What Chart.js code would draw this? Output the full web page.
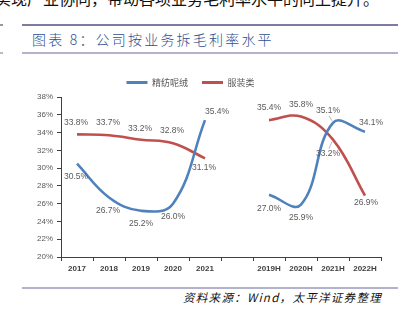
<!DOCTYPE html>
<html><head><meta charset="utf-8">
<script src="https://cdn.jsdelivr.net/npm/chart.js@4.4.0/dist/chart.umd.min.js"></script>
<style>
html,body{margin:0;padding:0;background:#fff;width:409px;height:321px;overflow:hidden;position:relative;font-family:"Noto Sans CJK SC",sans-serif;}
#top{position:absolute;left:-5px;top:-14px;font-size:16px;color:#111;white-space:nowrap;letter-spacing:0px;}
#l1{position:absolute;left:22px;top:24px;width:376px;height:2px;background:#7c7ca0;}
#l2{position:absolute;left:22px;top:52px;width:376px;height:2px;background:#b2b2cc;}
#m1{position:absolute;left:0;top:24px;width:3px;height:2px;background:#999;}
#m2{position:absolute;left:0;top:52px;width:3px;height:2px;background:#bbb;}
#title{position:absolute;left:32px;top:29px;font-size:14px;font-weight:300;color:#2e4f8f;letter-spacing:2.2px;white-space:nowrap;}
#l3{position:absolute;left:22px;top:287px;width:376px;height:2px;background:#b2b2cc;}
#src{position:absolute;left:183px;top:289px;font-size:11.5px;font-style:italic;color:#111;letter-spacing:1.3px;white-space:nowrap;}
#wrap{position:absolute;left:0;top:57px;width:409px;height:230px;}
</style></head>
<body>
<div id="top">实现产业协同，带动各项业务毛利率水平的向上提升。</div>
<div id="m1"></div><div id="m2"></div>
<div id="l1"></div>
<div id="title">图表 8：公司按业务拆毛利率水平</div>
<div id="l2"></div>
<div id="wrap"><canvas id="c" width="409" height="230"></canvas></div>
<div id="l3"></div>
<div id="src">资料来源：Wind，太平洋证券整理</div>
<script>
const categories = ['2017','2018','2019','2020','2021','','2019H','2020H','2021H','2022H'];
const woolens = [30.5, 26.7, 25.2, 26.0, 35.4, null, 27.0, 25.9, 35.1, 34.1];
const apparel = [33.8, 33.7, 33.2, 32.8, 31.1, null, 35.4, 35.8, 33.2, 26.9];
const seriesNames = ['精纺呢绒', '服装类'];
const yTicks = [20,22,24,26,28,30,32,34,36,38];

const labelOffsets = [
  [[-1,13],[-1,13],[0,13],[0,13],[12,-8],null,[0,14],[0,13],[-5,-12],[6,-9]],
  [[-1,-12],[-1,-13],[-1,-11],[-1,-13],[-1,9],null,[0,-12],[0,-12],[-5,14],[1,7]]
];
const leaders = [[8],[8]];

const ptLabels = {
  id:'ptLabels',
  afterDatasetsDraw(chart){
    const ctx = chart.ctx;
    ctx.save();
    ctx.font = '8.5px "Liberation Sans", Arial, sans-serif';
    ctx.fillStyle = '#595959';
    ctx.textAlign = 'center';
    ctx.textBaseline = 'middle';
    chart.data.datasets.forEach((ds, di) => {
      const meta = chart.getDatasetMeta(di);
      meta.data.forEach((pt, i) => {
        const v = ds.data[i];
        if (v == null) return;
        const off = labelOffsets[di][i];
        const lx = pt.x + off[0], ly = pt.y + off[1];
        ctx.fillText(v.toFixed(1) + '%', lx, ly);
        if (leaders[di].includes(i)) {
          ctx.strokeStyle = '#a6a6a6';
          ctx.lineWidth = 0.8;
          ctx.beginPath();
          const sgn = off[1] < 0 ? 1 : -1;
          ctx.moveTo(lx + 1, ly + sgn*5);
          ctx.lineTo(pt.x - 1, pt.y - sgn*2);
          ctx.stroke();
        }
      });
    });
    ctx.restore();
  }
};

new Chart(document.getElementById('c'), {
  type: 'line',
  data: {
    labels: categories,
    datasets: [
      {label: seriesNames[0], data: woolens, borderColor:'#4f81bd', backgroundColor:'#4f81bd', borderWidth:2.6, pointRadius:0, tension:0.4, spanGaps:false, fill:false},
      {label: seriesNames[1], data: apparel, borderColor:'#c0504d', backgroundColor:'#c0504d', borderWidth:2.6, pointRadius:0, tension:0.4, spanGaps:false, fill:false}
    ]
  },
  options: {
    responsive:false, animation:false, devicePixelRatio:1,
    layout:{padding:{left:0,right:28,top:7,bottom:0}},
    plugins:{
      tooltip:{enabled:false},
      legend:{
        display:true, position:'top', align:'center',
        labels:{
          boxWidth:21, boxHeight:3, padding:14, color:'#595959',
          font:{size:9, family:'"Noto Sans CJK SC", sans-serif'},
          generateLabels(chart){
            return chart.data.datasets.map((d,i)=>({text:d.label, fillStyle:d.borderColor, strokeStyle:d.borderColor, lineWidth:0, datasetIndex:i, fontColor:'#595959'}));
          }
        }
      }
    },
    scales:{
      x:{
        offset:true,
        grid:{display:true, offset:true, drawOnChartArea:false, drawTicks:true, tickLength:4, color:'#404040'},
        border:{display:true, color:'#404040', width:1},
        ticks:{color:'#404040', font:{size:8, weight:'bold', family:'"Liberation Sans", Arial'}, padding:3, maxRotation:0, autoSkip:false},
        afterFit(s){ s.height = 30; }
      },
      y:{
        min:20, max:38,
        afterBuildTicks(s){ s.ticks = yTicks.map(v=>({value:v})); },
        grid:{display:true, drawOnChartArea:false, drawTicks:true, tickLength:4, color:'#404040'},
        border:{display:true, color:'#404040', width:1},
        ticks:{color:'#595959', font:{size:8, family:'"Liberation Sans", Arial'}, padding:4, callback:v=>v+'%'},
        afterFit(s){ s.width = 61; }
      }
    }
  },
  plugins:[ptLabels]
});
</script>
</body></html>
